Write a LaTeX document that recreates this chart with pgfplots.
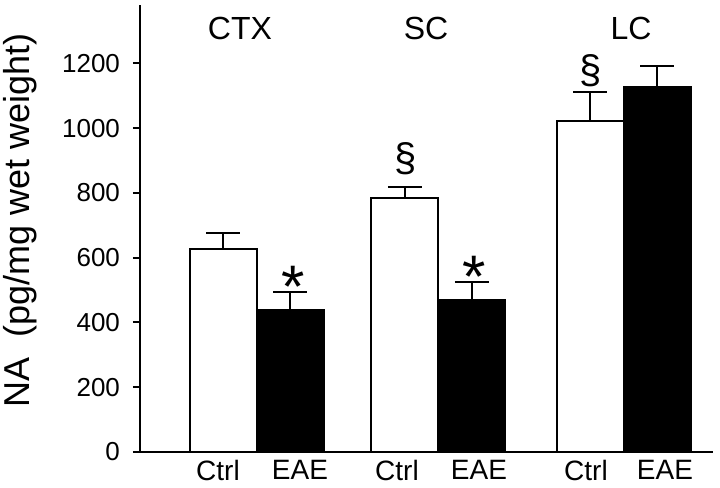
\documentclass[border=0pt]{standalone}
\usepackage{pgfplots}
\pgfplotsset{compat=1.18}
\usepackage{fontspec}
\setmainfont{Liberation Sans}
\begin{document}
\begin{tikzpicture}
\begin{axis}[
  scale only axis,
  width=286.5pt, height=223.5pt,
  xmin=140, xmax=713, ymin=0, ymax=1380,
  axis x line*=bottom, axis y line*=left,
  x axis line style={line width=1pt, -},
  y axis line style={line width=1pt, -},
  ytick={0,200,...,1200},
  xtick={218,300,397,479,586,665},
  xticklabels={Ctrl,EAE,Ctrl,EAE,Ctrl,EAE},
  tick align=outside,
  major tick length=3.5pt,
  x tick style={draw=none},
  y tick style={line width=1pt, black},
  tick label style={font=\fontsize{13}{13}\selectfont},
  xticklabel style={font=\fontsize{14}{14}\selectfont, yshift=3pt},
  yticklabel style={xshift=-3pt},
  /pgf/number format/assume math mode=true,
  /pgf/number format/set thousands separator={},
  ylabel={NA\ \ (pg/mg wet weight)},
  ylabel style={font=\fontsize{18}{18}\selectfont, at={(axis description cs:-0.209,0.517)}, anchor=center},
  clip=false,
]
\addplot[ybar, bar width=67, bar shift=0pt, draw=black, fill=white, line width=1pt,
  error bars/.cd, y dir=plus, y explicit,
  error bar style={line width=1pt, black},
  error mark options={rotate=90, mark size=8.5pt, line width=1pt, black}]
  coordinates {(223.5,626) +- (0,51) (405,785) +- (0,33) (590.5,1023) +- (0,88)};
\addplot[ybar, bar width=67, bar shift=0pt, draw=black, fill=black, line width=1pt,
  error bars/.cd, y dir=plus, y explicit,
  error bar style={line width=1pt, black},
  error mark options={rotate=90, mark size=8.5pt, line width=1pt, black}]
  coordinates {(290.5,438) +- (0,56) (472,469) +- (0,57) (657.5,1126) +- (0,67)};
\node[font=\fontsize{16}{16}\selectfont] at (axis cs:240,1309) {CTX};
\node[font=\fontsize{16}{16}\selectfont] at (axis cs:426,1309) {SC};
\node[font=\fontsize{16}{16}\selectfont] at (axis cs:631,1309) {LC};
\node[font=\fontsize{20}{20}\selectfont] at (axis cs:405.5,905) {§};
\node[font=\fontsize{20}{20}\selectfont] at (axis cs:590.5,1178) {§};
\node[font=\fontsize{30}{30}\selectfont, anchor=base] at (axis cs:293.5,445) {*};
\node[font=\fontsize{30}{30}\selectfont, anchor=base] at (axis cs:474,476) {*};
\end{axis}
\pgfresetboundingbox
\path[use as bounding box] (-70pt,-18pt) rectangle (290pt,226pt);
\end{tikzpicture}
\end{document}
